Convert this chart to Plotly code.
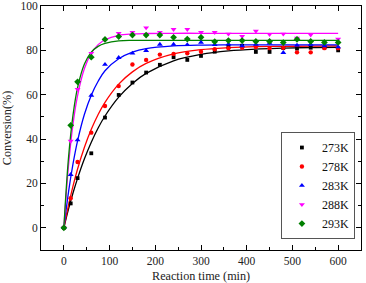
import plotly.graph_objects as go

# ---- data ----
t_pts = [0, 15, 30, 60, 90, 120, 150, 180, 210, 240, 270, 300, 330, 360,
         390, 420, 450, 480, 510, 540, 570, 600]

k273 = [0, 11.0, 22.4, 33.6, 49.7, 59.9, 65.5, 70.0, 73.5, 76.9, 75.7, 77.5,
        79.4, 81.7, 82.1, 79.3, 79.3, 81.0, 80.8, 81.2, 81.3, 80.0]
k278 = [0, 13.3, 29.7, 42.9, 54.9, 63.9, 73.6, 75.7, 78.1, 78.4, 78.7, 79.4,
        80.5, 81.0, 81.2, 81.5, 81.0, 81.2, 79.1, 79.1, 81.0, 81.0]
k283 = [0, 24.0, 39.6, 59.7, 73.6, 76.7, 78.7, 79.9, 82.7, 82.7, 82.5, 83.6,
        82.5, 82.8, 82.0, 82.7, 83.2, 79.0, 82.3, 82.7, 82.0, 81.5]
k288 = [0, 39.1, 62.5, 78.7, 84.7, 87.7, 88.1, 90.2, 88.1, 89.5, 89.5, 88.1,
        88.1, 87.4, 86.3, 88.7, 87.2, 87.4, 85.5, 87.0, None, 85.1]
k293 = [0, 46.2, 65.8, 76.9, 84.9, 86.2, 86.9, 86.9, 86.9, 85.9, 85.1, 85.9,
        83.9, 84.4, 84.4, 84.0, 84.0, 83.5, 85.0, 84.0, 83.6, 83.6]

# fitted curves
t_fit = [0, 10, 20, 30, 45, 60, 75, 90, 120, 150, 180, 240, 300, 360, 420,
         480, 540, 600]
f273 = [0, 8.3, 15.7, 22.3, 31.1, 38.6, 45.0, 50.4, 58.9, 65.1, 69.6, 75.3,
        78.2, 79.8, 80.6, 81.0, 81.3, 81.4]
f278 = [0, 10.0, 18.8, 26.5, 36.3, 44.4, 51.1, 56.6, 64.8, 70.3, 74.1, 78.4,
        80.3, 81.2, 81.7, 81.8, 81.9, 82.0]
f283 = [0, 15.9, 28.8, 39.2, 51.2, 59.8, 66.1, 70.8, 76.2, 79.2, 80.8, 82.0,
        82.4, 82.5, 82.5, 82.5, 82.5, 82.5]
f288 = [0, 27.7, 46.7, 59.6, 71.8, 78.7, 82.6, 84.8, 86.8, 87.4, 87.6, 87.7,
        87.7, 87.7, 87.7, 87.7, 87.7, 87.7]
f293 = [0, 31.2, 50.8, 63.2, 73.8, 79.2, 81.8, 83.1, 84.3, 84.5, 84.5, 84.5,
        84.5, 84.5, 84.5, 84.5, 84.5, 84.5]

names = ["273K", "278K", "283K", "288K", "293K"]
colors = ["#000000", "#ff0000", "#0000ff", "#ff00ff", "#008000"]
symbols = ["square", "circle", "triangle-up", "triangle-down", "diamond"]
sizes = [3.8, 4.4, 5.2, 5.2, 5.2]
pts = [k273, k278, k283, k288, k293]
fits = [f273, f278, f283, f288, f293]

fig = go.Figure()
for f, c in zip(fits, colors):
    fig.add_trace(go.Scatter(x=t_fit, y=f, mode="lines",
                             line=dict(color=c, width=1.3, shape="spline"),
                             showlegend=False, hoverinfo="skip"))
for n, p, c, s, sz in zip(names, pts, colors, symbols, sizes):
    fig.add_trace(go.Scatter(x=t_pts, y=p, mode="markers", name=n,
                             marker=dict(color=c, symbol=s, size=sz,
                                         line=dict(width=0))))

font_family = "Liberation Serif"
fig.update_layout(
    width=366, height=283, autosize=False,
    margin=dict(l=41, r=5, t=6, b=33),
    paper_bgcolor="white", plot_bgcolor="white",
    font=dict(family=font_family, size=11.5, color="#222"),
    legend=dict(x=0.981, y=0.045, xanchor="right", yanchor="bottom",
                bgcolor="white", bordercolor="#555", borderwidth=1,
                font=dict(size=12, family=font_family, color="#111"),
                itemwidth=30, tracegroupgap=0),
    xaxis=dict(range=[-50, 650], dtick=100, tick0=0, automargin=False,
               showline=True, linecolor="black", linewidth=1, mirror="ticks",
               ticks="inside", ticklen=5, tickcolor="black",
               minor=dict(ticks="inside", dtick=50, ticklen=3, tickcolor="black"),
               showgrid=False, zeroline=False),
    yaxis=dict(range=[-10, 100], dtick=20, tick0=0, automargin=False,
               showline=True, linecolor="black", linewidth=1, mirror="ticks",
               ticks="inside", ticklen=5, tickcolor="black",
               minor=dict(ticks="inside", dtick=10, ticklen=3, tickcolor="black"),
               showgrid=False, zeroline=False,
               title=dict(text="Conversion(%)", font=dict(size=12.2),
                          standoff=6)),
    annotations=[dict(text="Reaction time (min)", xref="paper", yref="paper",
                      x=0.5, y=-0.107, xanchor="center", yanchor="middle",
                      showarrow=False,
                      font=dict(size=12.2, family=font_family, color="#222"))],
)

fig.write_html("out.html")
